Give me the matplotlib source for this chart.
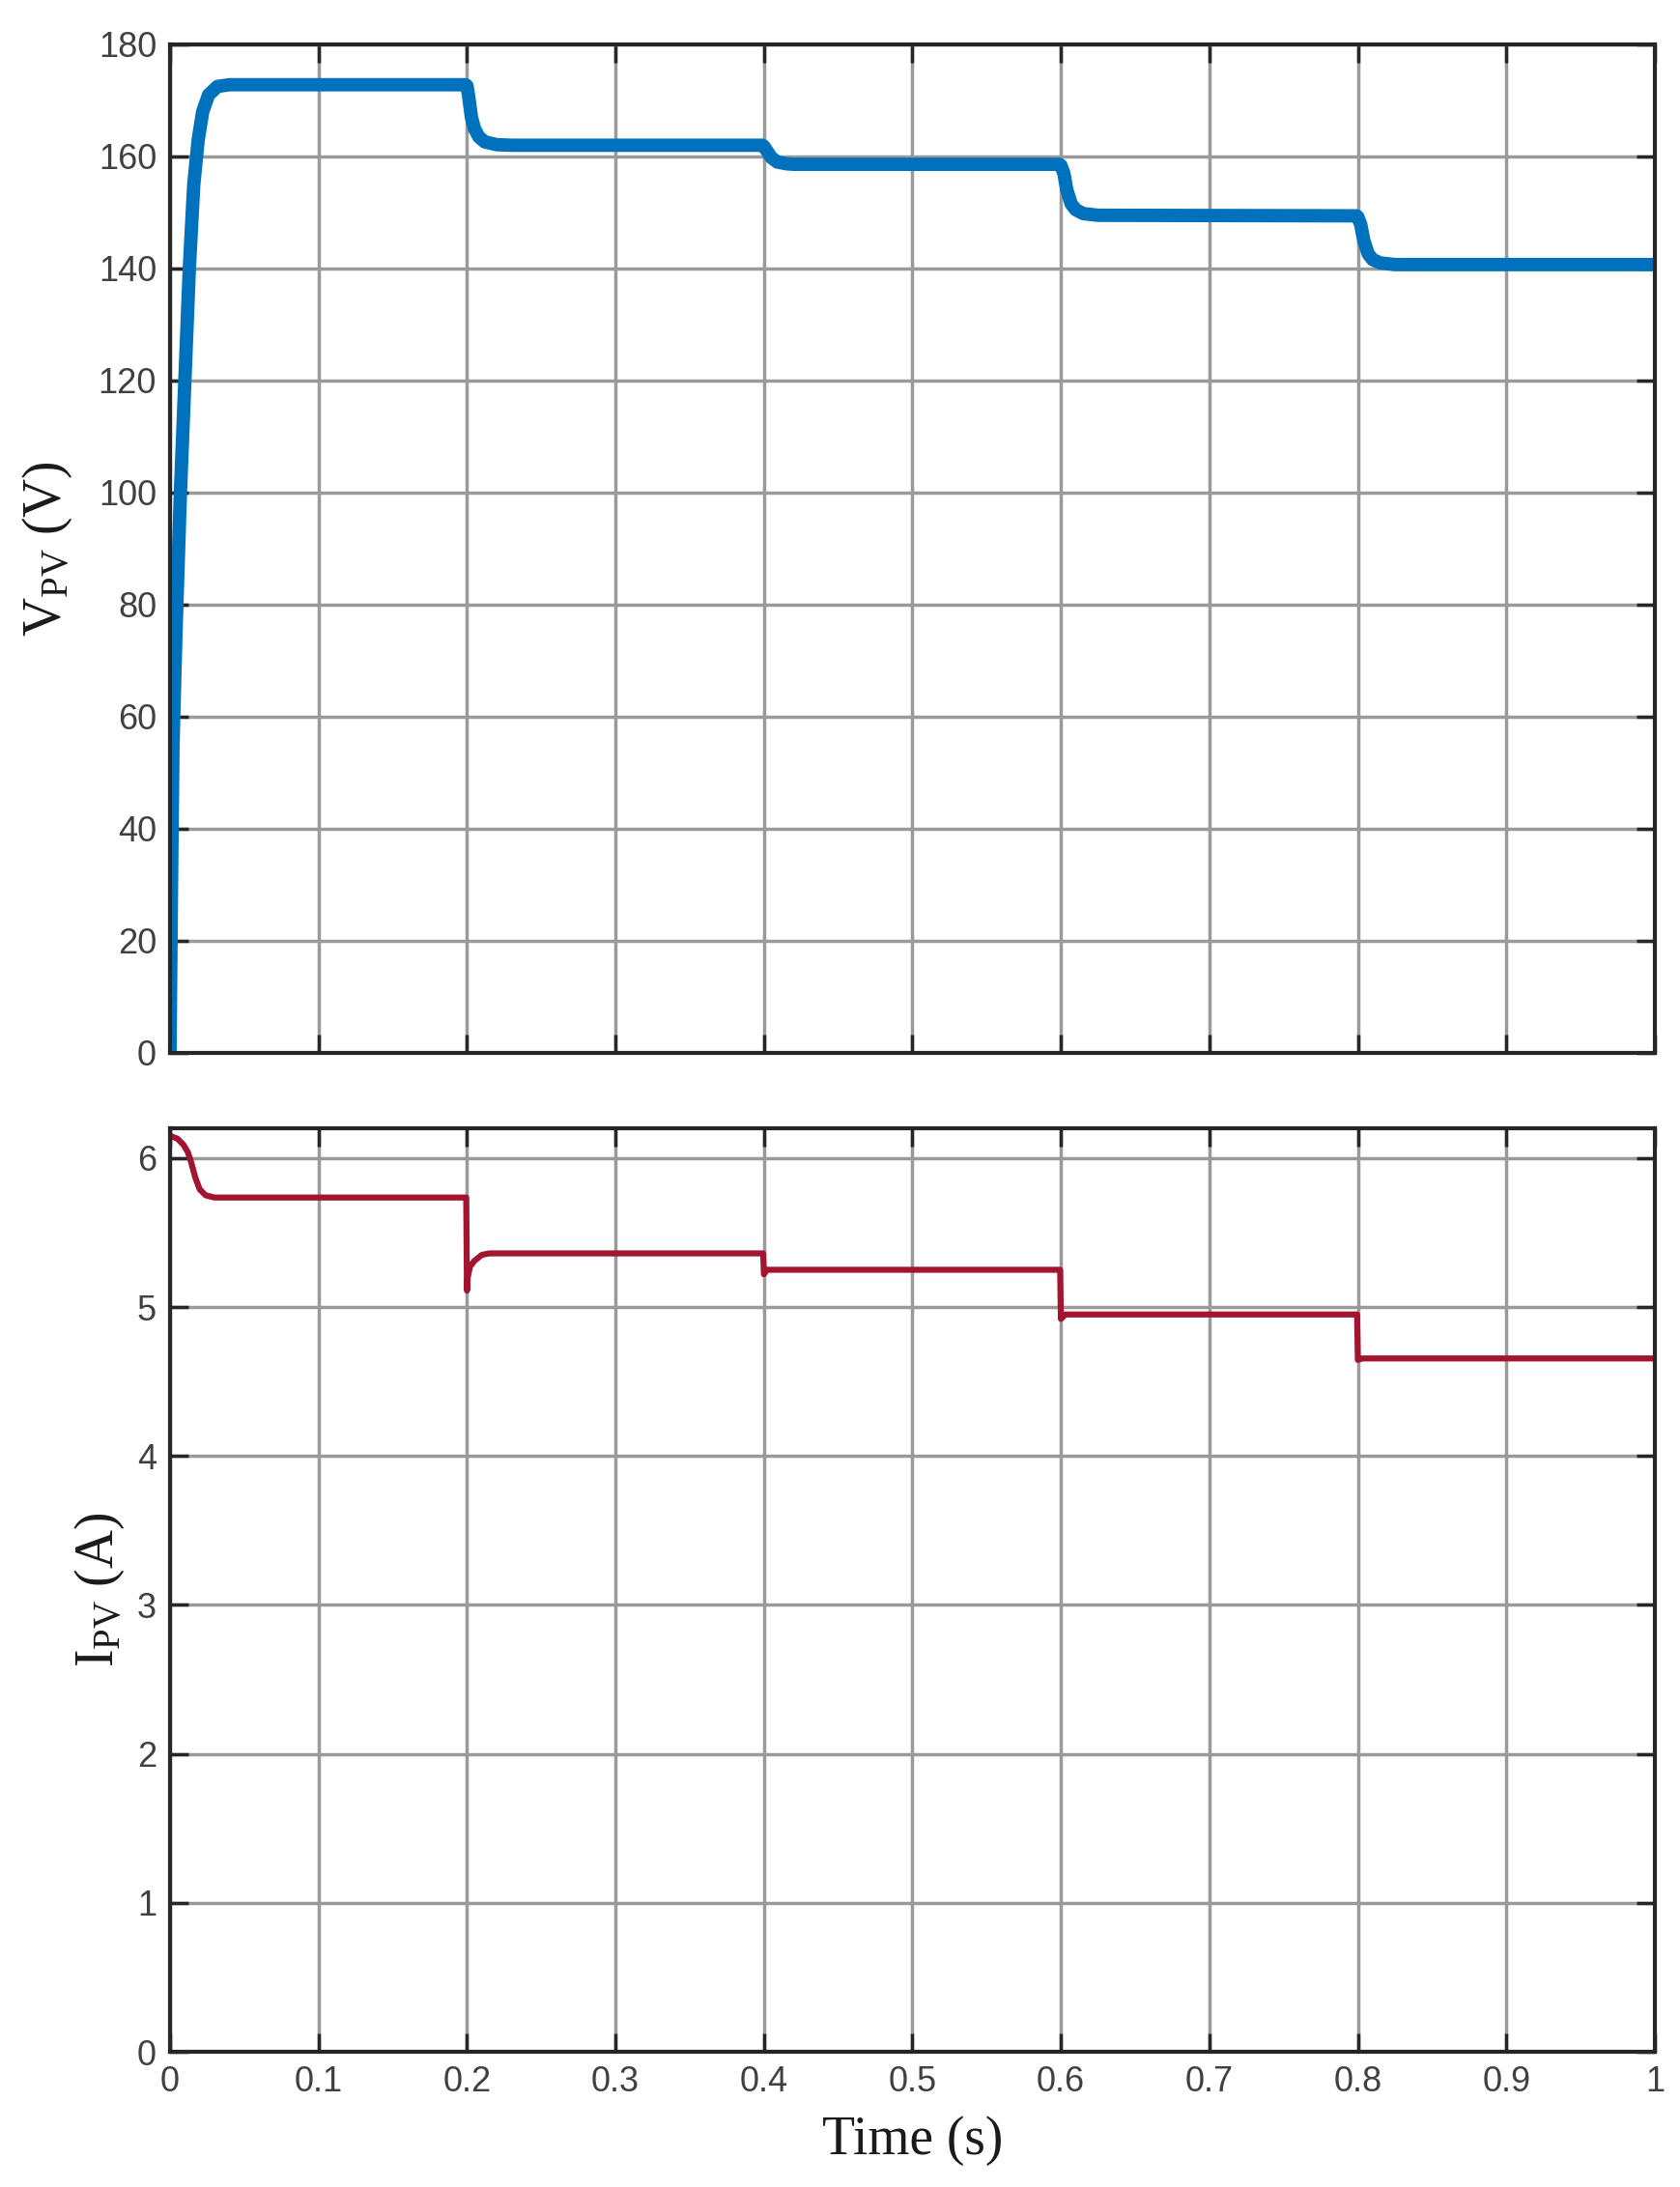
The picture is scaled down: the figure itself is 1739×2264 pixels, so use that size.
import matplotlib
matplotlib.use("Agg")
import matplotlib.pyplot as plt

# PV voltage (V)
t_v = [0.0, 0.001, 0.002, 0.004, 0.007, 0.010, 0.013, 0.016, 0.019, 0.022,
       0.026, 0.032, 0.040, 0.199, 0.200, 0.201, 0.203, 0.205, 0.208, 0.212,
       0.220, 0.230, 0.399, 0.400, 0.402, 0.405, 0.409, 0.415, 0.420, 0.599,
       0.600, 0.602, 0.604, 0.607, 0.610, 0.615, 0.625, 0.799, 0.800, 0.802,
       0.804, 0.807, 0.810, 0.815, 0.825, 1.0]
v_pv = [0.0, 30.0, 55.0, 75.0, 100.0, 120.0, 140.0, 155.0, 163.0, 168.0,
        171.0, 172.5, 172.8, 172.8, 172.6, 171.0, 167.0, 165.0, 163.5, 162.6,
        162.1, 162.0, 162.0, 161.8, 161.0, 159.8, 159.0, 158.7, 158.6, 158.6,
        158.4, 157.0, 154.0, 151.5, 150.5, 149.8, 149.5, 149.4, 149.2, 147.8,
        145.0, 142.6, 141.6, 141.0, 140.7, 140.7]

# PV current (A)
t_i = [0.0, 0.005, 0.009, 0.012, 0.014, 0.017, 0.020, 0.024, 0.030, 0.1995,
       0.200, 0.2005, 0.202, 0.205, 0.210, 0.215, 0.3995, 0.400, 0.402, 0.5995,
       0.600, 0.603, 0.7995, 0.800, 0.803, 1.0]
i_pv = [6.15, 6.13, 6.09, 6.04, 5.98, 5.87, 5.79, 5.75, 5.735, 5.735,
        5.11, 5.20, 5.27, 5.31, 5.35, 5.36, 5.36, 5.22, 5.25, 5.25,
        4.92, 4.95, 4.95, 4.645, 4.655, 4.655]

x_ticks = [0, 0.1, 0.2, 0.3, 0.4, 0.5, 0.6, 0.7, 0.8, 0.9, 1]
x_labels = ["0", "0.1", "0.2", "0.3", "0.4", "0.5", "0.6", "0.7", "0.8", "0.9", "1"]
v_ticks = [0, 20, 40, 60, 80, 100, 120, 140, 160, 180]
i_ticks = [0, 1, 2, 3, 4, 5, 6]

plt.rcParams["font.family"] = ["Liberation Sans", "DejaVu Sans"]
plt.rcParams["mathtext.fontset"] = "custom"
plt.rcParams["mathtext.rm"] = "Liberation Serif"
plt.rcParams["mathtext.it"] = "Liberation Serif:italic"

fig = plt.figure(figsize=(17.39, 22.64), dpi=100)
ax1 = fig.add_axes([0.1012, 0.5186, 0.8838, 0.4611])
ax2 = fig.add_axes([0.1012, 0.0618, 0.8838, 0.4223])

ax1.plot(t_v, v_pv, color="#0072BD", lw=10, solid_capstyle="butt")
ax2.plot(t_i, i_pv, color="#A2142F", lw=4.5, solid_capstyle="butt")

label_font = dict(family="Liberation Serif", fontsize=40, color="#1a1a1a")

for ax in (ax1, ax2):
    ax.set_xlim(0, 1)
    ax.set_xticks(x_ticks)
    ax.grid(True, color="#9a9a9a", lw=2.5)
    ax.set_axisbelow(True)
    ax.tick_params(direction="in", length=14, width=2.5, top=True, right=True,
                   labelsize=26, labelcolor="#404040", color="#262626", pad=10)
    for s in ax.spines.values():
        s.set_linewidth(3)
        s.set_color("#262626")

ax1.set_ylim(0, 180)
ax1.set_yticks(v_ticks)
ax1.set_xticklabels([])
ax1.set_ylabel(r"V$_{\mathrm{PV}}$ (V)", labelpad=18, **label_font)

ax2.set_ylim(0, 6.2)
ax2.set_yticks(i_ticks)
ax2.set_xticklabels(x_labels)
ax2.set_ylabel(r"I$_{\mathrm{PV}}$ (A)", labelpad=8, **label_font)
ax2.set_xlabel("Time (s)", labelpad=12, **label_font)

fig.savefig("out.png", dpi=100, facecolor="white")
